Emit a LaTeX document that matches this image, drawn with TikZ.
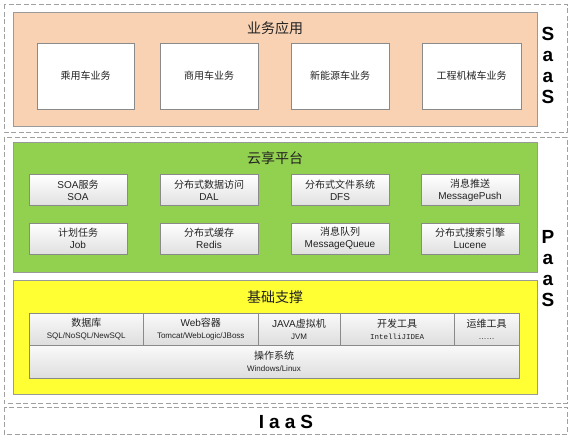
\documentclass[tikz,border=0pt]{standalone}
\usepackage{fontspec}
\setmainfont{Liberation Sans}
\newfontfamily\cjk{Noto Sans CJK SC}
\newfontfamily\monof{Liberation Mono}
\definecolor{peach}{HTML}{F9D2B4}
\definecolor{pgreen}{HTML}{92D050}
\definecolor{pyellow}{HTML}{FFFF33}
\definecolor{edgegrey}{HTML}{9A9A9A}
\definecolor{boxedge}{HTML}{8A8A8A}
\definecolor{dashgrey}{HTML}{A0A0A0}
\definecolor{txt}{HTML}{222222}
\tikzset{
  layerdash/.style={draw=dashgrey, line width=0.8pt, dash pattern=on 5pt off 2.5pt},
  layerbox/.style={draw=edgegrey, line width=0.7pt},
  whitebox/.style={draw=boxedge, fill=white, line width=0.7pt, inner sep=0pt, outer sep=0pt, font=\cjk\fontsize{10}{12}\selectfont, text=txt},
  greybox/.style={draw=boxedge, top color=white, bottom color=black!12, line width=0.7pt, inner sep=0pt, outer sep=0pt, align=center, font=\fontsize{10}{12}\selectfont, text=txt},
  cellbox/.style={draw=boxedge, top color=black!2, bottom color=black!13, line width=0.7pt, inner sep=0pt, outer sep=0pt, align=center, text=txt},
  titletext/.style={font=\cjk\fontsize{14}{16}\selectfont, text=txt},
  bigletter/.style={font=\bfseries\fontsize{19}{21}\selectfont, anchor=base, inner sep=0pt},
}
\newcommand{\subt}[1]{{\fontsize{8}{10}\selectfont #1}}
\begin{document}
\begin{tikzpicture}[x=1pt,y=-1pt]
\useasboundingbox (0,0) rectangle (572,440);
% outer dashed layers
\draw[layerdash] (4,4) rectangle (567,132);
\draw[layerdash] (4,137) rectangle (567,403);
\draw[layerdash] (4,407) rectangle (567,434);
% SaaS
\node[layerbox, fill=peach, minimum width=524pt, minimum height=114pt, inner sep=0pt] (saas) at (275,69) {};
\node[titletext] (saastitle) at (275,28) {业务应用};
\node[whitebox, minimum width=97pt, minimum height=66pt] (w1) at (85.5,76) {乘用车业务};
\node[whitebox, minimum width=98pt, minimum height=66pt] (w2) at (209,76) {商用车业务};
\node[whitebox, minimum width=98pt, minimum height=66pt] (w3) at (340,76) {新能源车业务};
\node[whitebox, minimum width=99pt, minimum height=66pt] (w4) at (471.5,76) {工程机械车业务};
\node[bigletter] (sa1) at (548,40) {S};
\node[bigletter] (sa2) at (548,61) {a};
\node[bigletter] (sa3) at (548,82) {a};
\node[bigletter] (sa4) at (548,103.5) {S};
% PaaS: cloud platform
\node[layerbox, fill=pgreen, minimum width=524pt, minimum height=130pt, inner sep=0pt] (cloud) at (275,207) {};
\node[titletext] (cloudtitle) at (275,158) {云享平台};
\node[greybox, minimum width=98pt, minimum height=31pt] (g1) at (78,190) {SOA{\cjk 服务}\\SOA};
\node[greybox, minimum width=98pt, minimum height=31pt] (g2) at (209,190) {{\cjk 分布式数据访问}\\DAL};
\node[greybox, minimum width=98pt, minimum height=31pt] (g3) at (340,190) {{\cjk 分布式文件系统}\\DFS};
\node[greybox, minimum width=98pt, minimum height=31pt] (g4) at (470,190) {{\cjk 消息推送}\\MessagePush};
\node[greybox, minimum width=98pt, minimum height=31pt] (g5) at (78,238.5) {{\cjk 计划任务}\\Job};
\node[greybox, minimum width=98pt, minimum height=31pt] (g6) at (209,238.5) {{\cjk 分布式缓存}\\Redis};
\node[greybox, minimum width=98pt, minimum height=31pt] (g7) at (340,238.5) {{\cjk 消息队列}\\MessageQueue};
\node[greybox, minimum width=98pt, minimum height=31pt] (g8) at (470,238.5) {{\cjk 分布式搜索引擎}\\Lucene};
% PaaS: foundation
\node[layerbox, fill=pyellow, minimum width=524pt, minimum height=114pt, inner sep=0pt] (base) at (275,337) {};
\node[titletext] (basetitle) at (275,297) {基础支撑};
\node[cellbox, minimum width=114.5pt, minimum height=32pt] (c1) at (86.25,329) {{\cjk\fontsize{10}{12}\selectfont 数据库}\\\subt{SQL/NoSQL/NewSQL}};
\node[cellbox, minimum width=114.5pt, minimum height=32pt] (c2) at (200.75,329) {{\fontsize{10}{12}\selectfont Web{\cjk 容器}}\\\subt{Tomcat/WebLogic/JBoss}};
\node[cellbox, minimum width=82pt, minimum height=32pt] (c3) at (299,329) {{\fontsize{10}{12}\selectfont JAVA{\cjk 虚拟机}}\\\subt{JVM}};
\node[cellbox, minimum width=114pt, minimum height=32pt] (c4) at (397,329) {{\cjk\fontsize{10}{12}\selectfont 开发工具}\\{\monof\fontsize{7.5}{10}\selectfont IntelliJIDEA}};
\node[cellbox, minimum width=65pt, minimum height=32pt] (c5) at (486.5,329) {{\cjk\fontsize{10}{12}\selectfont 运维工具}\\\subt{……}};
\node[cellbox, minimum width=490pt, minimum height=33pt] (c6) at (274,361.5) {{\cjk\fontsize{10}{12}\selectfont 操作系统}\\\subt{Windows/Linux}};
\node[bigletter] (pa1) at (548,243) {P};
\node[bigletter] (pa2) at (548,264) {a};
\node[bigletter] (pa3) at (548,285) {a};
\node[bigletter] (pa4) at (548,306.5) {S};
% IaaS
\node[bigletter] (iaas) at (286,428) {I\hspace{5pt}a\hspace{5pt}a\hspace{5pt}S};
\end{tikzpicture}
\end{document}
